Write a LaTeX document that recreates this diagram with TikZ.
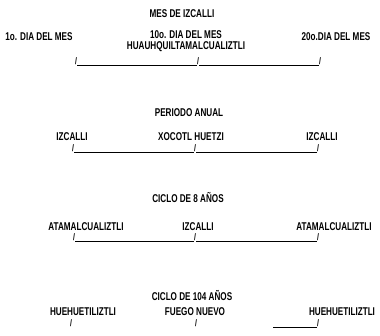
\documentclass[tikz,border=0pt]{standalone}
\usepackage{fontspec}
\setmainfont{Liberation Sans}
\usetikzlibrary{positioning}

\begin{document}
\begin{tikzpicture}[x=1pt, y=-1pt,
    every node/.style={inner sep=0pt, font=\fontsize{11.3}{12}\selectfont\bfseries, xscale=0.72},
    title/.style={},
    tick/.style={anchor=base, font=\fontsize{9.5}{9}\selectfont\bfseries},
    bar/.style={line width=0.75pt}]
    \useasboundingbox (0,0) rectangle (380,336);

    % mes de izcalli
    \node[title] (t1) at (182,14) {MES DE IZCALLI};
    \node (d1) at (39,37) {1o. DIA DEL MES};
    \node (d10) at (186,35) {10o. DIA DEL MES};
    \node[below=2.5pt of d10] (hua) {HUAUHQUILTAMALCUALIZTLI};
    \node (d20) at (336,37) {20o.DIA DEL MES};
    \node[tick] (a1) at (76,65) {/};
    \node[tick] (a2) at (198,65) {/};
    \node[tick] (a3) at (320,65) {/};
    \draw[bar] (a1.base east) -- (a2.base west);
    \draw[bar] (a2.base east) -- (a3.base west);

    % periodo anual
    \node[title] (t2) at (189,113) {PERIODO ANUAL};
    \node (iz1) at (72,137) {IZCALLI};
    \node (xoc) at (191,137) {XOCOTL HUETZI};
    \node (iz2) at (322,137) {IZCALLI};
    \node[tick] (b1) at (73,152) {/};
    \node[tick] (b2) at (195,152) {/};
    \node[tick] (b3) at (318,152) {/};
    \draw[bar] (b1.base east) -- (b2.base west);
    \draw[bar] (b2.base east) -- (b3.base west);

    % ciclo de 8 anos
    \node[title] (t3) at (188,198) {CICLO DE 8 AÑOS};
    \node (at1) at (86,227) {ATAMALCUALIZTLI};
    \node (iz3) at (198,227) {IZCALLI};
    \node (at2) at (334,227) {ATAMALCUALIZTLI};
    \node[tick] (c1) at (74,241) {/};
    \node[tick] (c2) at (195,241) {/};
    \node[tick] (c3) at (318,241) {/};
    \draw[bar] (c1.base east) -- (c2.base west);
    \draw[bar] (c2.base east) -- (c3.base west);

    % ciclo de 104 anos
    \node[title] (t4) at (192,296) {CICLO DE 104 AÑOS};
    \node (hu1) at (83,312) {HUEHUETILIZTLI};
    \node (fue) at (195,312) {FUEGO NUEVO};
    \node (hu2) at (342,312) {HUEHUETILIZTLI};
    \node[tick] (e1) at (71,327) {/};
    \node[tick] (e2) at (196,327) {/};
    \node[tick] (e3) at (318,327) {/};
    \coordinate (e0) at (273,327);
    \draw[bar] (e0) -- (e3.base west);
\end{tikzpicture}
\end{document}
